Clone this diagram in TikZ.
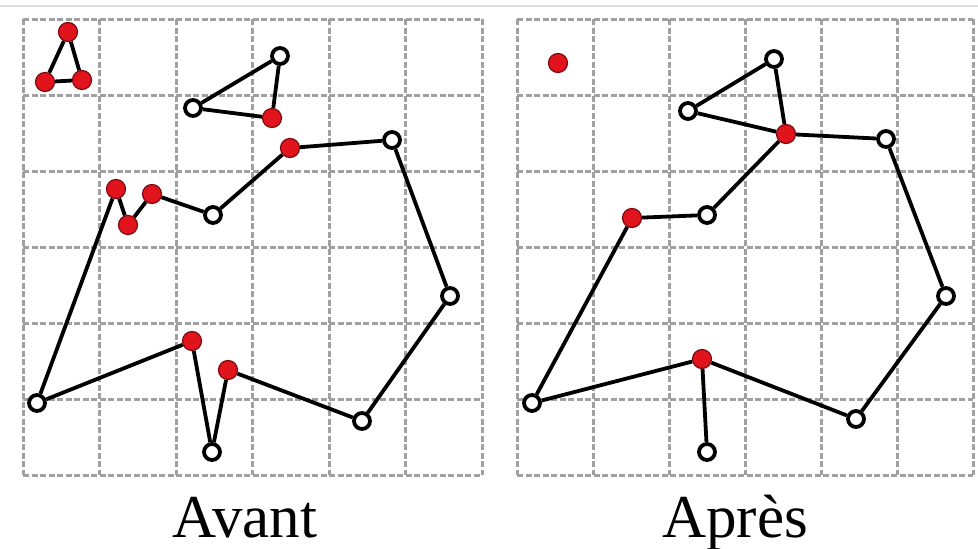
\documentclass[tikz,border=0pt]{standalone}
\usepackage{fontspec}
\setmainfont{Liberation Serif}
\definecolor{gridgray}{RGB}{160,160,160}
\definecolor{nodered}{RGB}{225,20,30}
\tikzset{
  gridline/.style={draw=gridgray, line width=3pt, dash pattern=on 6pt off 2.5pt},
  rednode/.style={circle, fill=nodered, draw=nodered!55!black, line width=1.2pt, minimum size=19pt, inner sep=0pt},
  whitenode/.style={circle, fill=white, draw=black, line width=3.8pt, minimum size=16pt, inner sep=0pt},
  edge/.style={draw=black, line width=3.8pt},
  caption/.style={font=\fontsize{61}{61}\selectfont, anchor=base}
}
\begin{document}
\begin{tikzpicture}[x=1pt, y=-1pt]
\useasboundingbox (0,0) rectangle (978,549);
\fill[white] (0,0) rectangle (978,549);
\draw[gray!25, line width=1.5pt] (0,6) -- (978,6);
% left grid
\foreach \x in {23,99.5,176,252.5,329,405.5,482} \draw[gridline] (\x,19) -- (\x,475);
\foreach \y in {19,95,171,247,323,399,475} \draw[gridline] (23,\y) -- (482,\y);
% right grid
\foreach \x in {517,593,669,745,821,897,973} \draw[gridline] (\x,19) -- (\x,475);
\foreach \y in {19,95,171,247,323,399,475} \draw[gridline] (517,\y) -- (973,\y);

% ---- Avant ----
\node[rednode] (a1) at (68,32) {};
\node[rednode] (a2) at (45,82) {};
\node[rednode] (a3) at (82,80) {};
\node[whitenode] (b1) at (280,56) {};
\node[whitenode] (b2) at (193,108) {};
\node[rednode] (b3) at (272,118) {};
\node[rednode] (p1) at (290,148) {};
\node[whitenode] (p2) at (392,140) {};
\node[whitenode] (p3) at (450,296) {};
\node[whitenode] (p4) at (362,421) {};
\node[rednode] (p5) at (228,370) {};
\node[whitenode] (p6) at (212,452) {};
\node[rednode] (p7) at (192,341) {};
\node[whitenode] (p8) at (37,403) {};
\node[rednode] (p9) at (116,189) {};
\node[rednode] (p10) at (128,225) {};
\node[rednode] (p11) at (152,194) {};
\node[whitenode] (p12) at (213,215) {};
\path[edge] (a1) -- (a2) -- (a3) -- (a1);
\path[edge] (b1) -- (b2) -- (b3) -- (b1);
\path[edge] (p1) -- (p2) -- (p3) -- (p4) -- (p5) -- (p6) -- (p7) -- (p8) -- (p9) -- (p10) -- (p11) -- (p12) -- (p1);

% ---- Apres ----
\node[rednode] (r0) at (558,63) {};
\node[whitenode] (c1) at (774,59) {};
\node[whitenode] (c2) at (688,111) {};
\node[rednode] (c3) at (786,134) {};
\node[whitenode] (q2) at (886,139) {};
\node[whitenode] (q3) at (946,296) {};
\node[whitenode] (q4) at (856,419) {};
\node[rednode] (q5) at (702,359) {};
\node[whitenode] (q6) at (707,452) {};
\node[whitenode] (q8) at (532,403) {};
\node[rednode] (q9) at (632,218) {};
\node[whitenode] (q12) at (707,215) {};
\path[edge] (c2) -- (c1) -- (c3) -- (c2);
\path[edge] (c3) -- (q2) -- (q3) -- (q4) -- (q5) -- (q8) -- (q9) -- (q12) -- (c3);
\path[edge] (q5) -- (q6);

\node[caption] (t1) at (245,537) {Avant};
\node[caption] (t2) at (735,537) {Après};
\end{tikzpicture}
\end{document}
